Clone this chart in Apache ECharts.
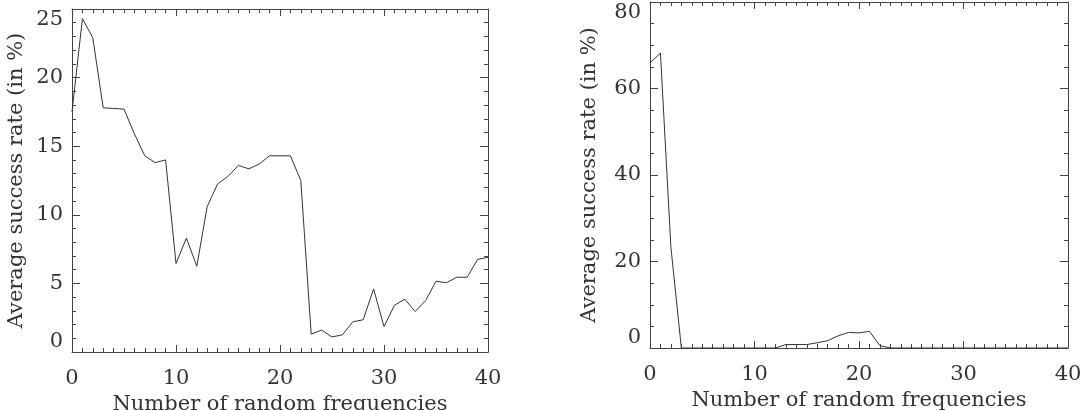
<!DOCTYPE html>
<html><head><meta charset="utf-8">
<script src="https://cdn.jsdelivr.net/npm/echarts@6/dist/echarts.min.js"></script>
<style>html,body{margin:0;padding:0;background:#fff}#c{width:1081px;height:410px}</style>
</head><body><div id="c"></div>
<script>
const frequencies = [0,1,2,3,4,5,6,7,8,9,10,11,12,13,14,15,16,17,18,19,20,21,22,23,24,25,26,27,28,29,30,31,32,33,34,35,36,37,38,39,40];
const leftRates = [17.5,24.3,22.9,17.8,17.75,17.7,15.9,14.3,13.8,14.0,6.45,8.3,6.25,10.6,12.25,12.8,13.6,13.35,13.7,14.3,14.3,14.3,12.5,1.3,1.6,1.1,1.25,2.2,2.35,4.6,1.85,3.4,3.85,2.95,3.75,5.15,5.05,5.45,5.45,6.75,6.9];
const rightRates = [65.9,68.2,23.3,0,0,0,0,0,0,0,0,0,0,0.8,0.8,0.8,1.2,1.7,2.8,3.6,3.5,3.85,0.55,0,0,0,0,0,0,0,0,0,0,0,0,0,0,0,0,0,0];
const xRange = [0, 40];
const leftYRange = [0, 25];
const rightYRange = [0, 80];
const xTitle = 'Number of random frequencies';
const yTitle = 'Average success rate (in %)';

const FONT = 'DejaVu Serif';
const INK = '#333';
const AX = '#444';

function xAxes(gi) {
  const base = {
    type: 'value', gridIndex: gi, min: xRange[0], max: xRange[1], interval: 10,
    axisLine: {show: true, onZero: false, lineStyle: {color: AX, width: 1}},
    axisTick: {show: true, inside: true, length: 7, lineStyle: {color: AX}},
    minorTick: {show: true, splitNumber: 10, length: 4, lineStyle: {color: AX}},
    splitLine: {show: false}, minorSplitLine: {show: false}
  };
  return [
    Object.assign({}, base, {position: 'bottom',
      axisLabel: {show: true, color: INK, fontFamily: FONT, fontSize: 21, margin: 16},
      name: xTitle, nameLocation: 'middle', nameGap: 42,
      nameTextStyle: {color: INK, fontFamily: FONT, fontSize: 21}}),
    Object.assign({}, base, {position: 'top', axisLabel: {show: false}})
  ];
}
function yAxes(gi, range, interval, minorSplit, gap) {
  const base = {
    type: 'value', gridIndex: gi, min: range[0], max: range[1], interval: interval,
    axisLine: {show: true, onZero: false, lineStyle: {color: AX, width: 1}},
    axisTick: {show: true, inside: true, length: 8, lineStyle: {color: AX}},
    minorTick: {show: true, splitNumber: minorSplit, length: 4, lineStyle: {color: AX}},
    splitLine: {show: false}, minorSplitLine: {show: false}
  };
  return [
    Object.assign({}, base, {position: 'left',
      axisLabel: {show: true, color: INK, fontFamily: FONT, fontSize: 21, margin: 9,
        verticalAlignMinLabel: 'bottom', verticalAlignMaxLabel: 'top'},
      name: yTitle, nameLocation: 'middle', nameGap: gap,
      nameTextStyle: {color: INK, fontFamily: FONT, fontSize: 21}}),
    Object.assign({}, base, {position: 'right', axisLabel: {show: false}})
  ];
}

const option = {
  animation: false,
  backgroundColor: '#fff',
  grid: [
    {left: 72, top: 9, width: 416, height: 343, containLabel: false, outerBoundsMode: 'none'},
    {left: 650, top: 2, width: 418, height: 346, containLabel: false, outerBoundsMode: 'none'}
  ],
  xAxis: [...xAxes(0), ...xAxes(1)],
  yAxis: [...yAxes(0, leftYRange, 5, 5, 45), ...yAxes(1, rightYRange, 20, 4, 50)],
  series: [
    {type: 'line', xAxisIndex: 0, yAxisIndex: 0, showSymbol: false, symbol: 'none',
     lineStyle: {color: INK, width: 1}, data: frequencies.map((f, i) => [f, leftRates[i]])},
    {type: 'line', xAxisIndex: 2, yAxisIndex: 2, showSymbol: false, symbol: 'none',
     lineStyle: {color: INK, width: 1}, data: frequencies.map((f, i) => [f, rightRates[i]])}
  ]
};
const chart = echarts.init(document.getElementById('c'), null, {renderer: 'canvas'});
chart.setOption(option);
</script></body></html>
